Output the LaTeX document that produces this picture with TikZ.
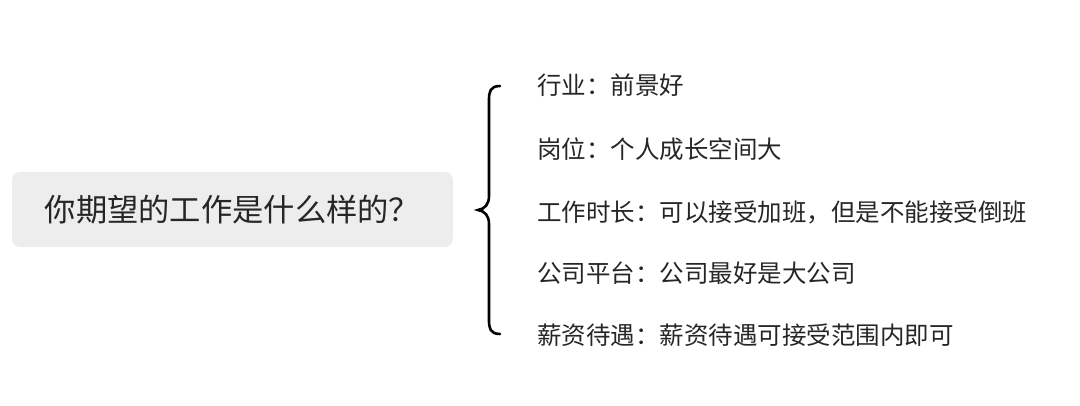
\documentclass[tikz,border=0pt]{standalone}
\usepackage{fontspec}
\newfontfamily\cjk{Noto Sans CJK SC}
\begin{document}
\begin{tikzpicture}[x=1pt,y=-1pt,
  root/.style={fill=black!7,rounded corners=8pt,minimum width=441pt,minimum height=75pt,font=\cjk\fontsize{31.3}{34}\selectfont,text=black!85},
  leaf/.style={anchor=west,font=\cjk\fontsize{24.5}{27}\selectfont,text=black!85,inner sep=0pt}]
\useasboundingbox (0,0) rectangle (1080,406);
\node[root] (r) at (232.5,209.5) {你期望的工作是什么样的？};
\coordinate (bt) at (500,86);
\coordinate (bm) at (478,210);
\coordinate (bb) at (500,334);
\draw[line width=2.6pt,line cap=round] (bt) .. controls (490,86) and (489,92) .. (489,100) -- (489,196) .. controls (489,204) and (485,209) .. (bm)
  .. controls (485,211) and (489,216) .. (489,224) -- (489,320) .. controls (489,328) and (490,334) .. (bb);
\node[leaf] (l1) at (537,85) {行业：前景好};
\node[leaf] (l2) at (537,149) {岗位：个人成长空间大};
\node[leaf] (l3) at (537,212) {工作时长：可以接受加班，但是不能接受倒班};
\node[leaf] (l4) at (537,273) {公司平台：公司最好是大公司};
\node[leaf] (l5) at (537,335) {薪资待遇：薪资待遇可接受范围内即可};
\end{tikzpicture}
\end{document}
